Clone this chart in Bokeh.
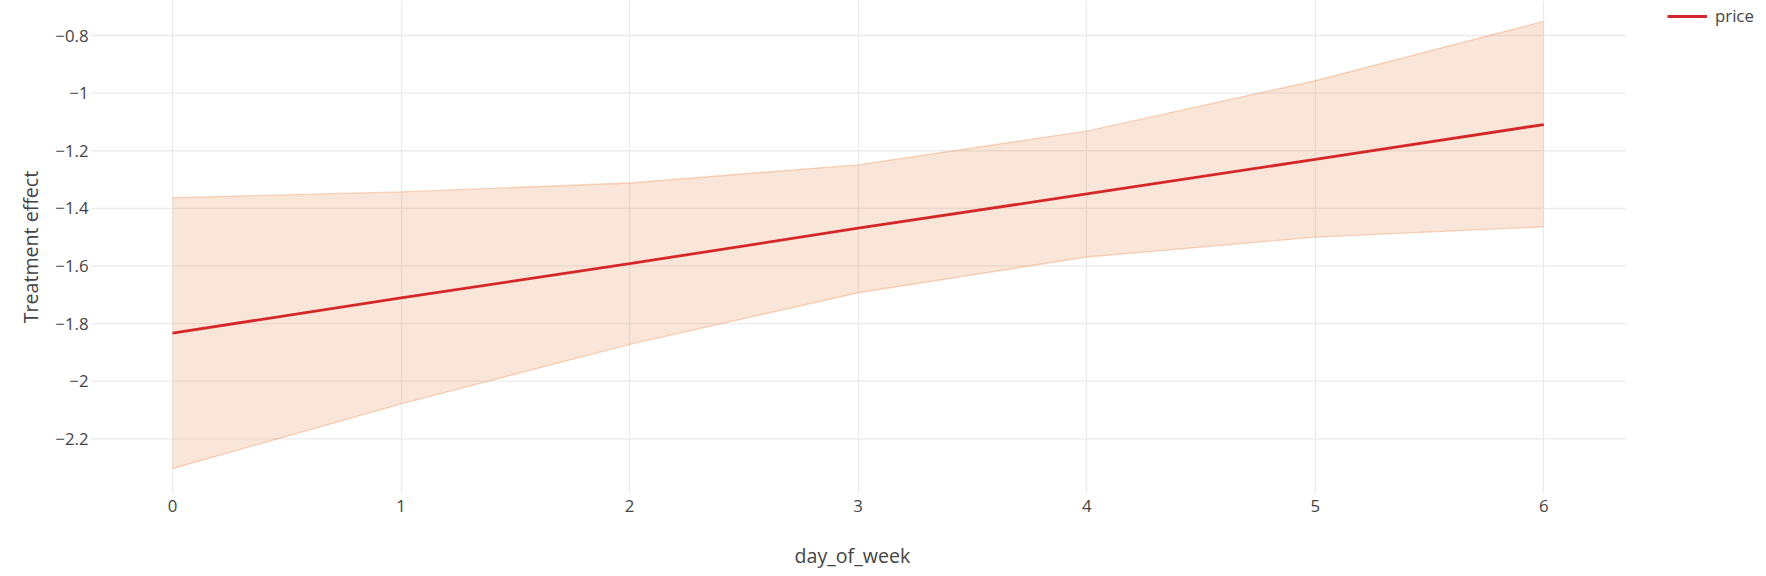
from bokeh.plotting import figure
from bokeh.models import FixedTicker, Legend, LegendItem, Range1d, ColumnDataSource, Title
from bokeh.embed import file_html
from bokeh.resources import INLINE

# ---- data ----
day_of_week = [0, 1, 2, 3, 4, 5, 6]
effect = [-1.833, -1.711, -1.592, -1.469, -1.350, -1.230, -1.109]
upper = [-1.363, -1.343, -1.312, -1.249, -1.132, -0.957, -0.751]
lower = [-2.303, -2.079, -1.872, -1.693, -1.569, -1.500, -1.464]
series_name = "price"
x_title = "day_of_week"
y_title = "Treatment effect"
x_ticks = [0, 1, 2, 3, 4, 5, 6]
y_ticks = [-2.2, -2.0, -1.8, -1.6, -1.4, -1.2, -1.0, -0.8]
y_tick_labels = ["\u22122.2", "\u22122", "\u22121.8", "\u22121.6", "\u22121.4", "\u22121.2", "\u22121", "\u22120.8"]

src = ColumnDataSource(dict(x=day_of_week, y=effect, lo=lower, hi=upper))

FONT = "Open Sans"
TXT = "#444444"
GRID = (235, 235, 235)

W, H = 1766, 576
BL, BB = 90, 83
# visible plotting area in data units (the frame extends further right to host the legend)
X_LO, X_HI = -0.3588, 6.3588
PX_PER_X = 228.55
FRAME_W = W - BL
FRAME_H = H - BB

p = figure(width=W, height=H, output_backend="svg", toolbar_location=None,
           x_range=Range1d(X_LO, X_LO + FRAME_W / PX_PER_X), y_range=Range1d(-2.3899, -0.6785),
           min_border_left=BL, min_border_right=0, min_border_top=0, min_border_bottom=BB)
p.outline_line_color = None
p.background_fill_color = "white"
p.border_fill_color = "white"

# horizontal grid lines, limited to the visible plotting area
grid_src = ColumnDataSource(dict(y=y_ticks, x0=[X_LO] * len(y_ticks), x1=[X_HI] * len(y_ticks)))
p.segment(x0="x0", x1="x1", y0="y", y1="y", source=grid_src, line_color=GRID, line_width=1.3, level="underlay")
p.ygrid.grid_line_color = None

# band
p.varea(x="x", y1="lo", y2="hi", source=src, fill_color=(231, 155, 99), fill_alpha=0.25)
p.line(x="x", y="hi", source=src, line_color=(240, 165, 115), line_alpha=0.45, line_width=1.4)
p.line(x="x", y="lo", source=src, line_color=(240, 165, 115), line_alpha=0.45, line_width=1.4)
main = p.line(x="x", y="y", source=src, line_color="#d62728", line_width=2.8)

# axes
p.xaxis.ticker = FixedTicker(ticks=x_ticks)
p.yaxis.ticker = FixedTicker(ticks=y_ticks)
p.yaxis.major_label_overrides = {t: l for t, l in zip(y_ticks, y_tick_labels)}
p.yaxis.axis_label = y_title
for ax in (p.xaxis, p.yaxis):
    ax.axis_line_color = None
    ax.major_tick_line_color = None
    ax.minor_tick_line_color = None
    ax.major_tick_in = 0
    ax.major_tick_out = 0
    ax.major_label_text_font = FONT
    ax.major_label_text_font_size = "16.8px"
    ax.major_label_text_color = TXT
    ax.axis_label_text_font = FONT
    ax.axis_label_text_font_size = "19.6px"
    ax.axis_label_text_color = TXT
    ax.axis_label_text_font_style = "normal"
p.yaxis.major_label_standoff = 2
p.yaxis.axis_label_standoff = 8
p.xaxis.major_label_standoff = 6

p.xgrid.grid_line_color = GRID
p.xgrid.grid_line_width = 1.3

# thin spacer below the tick labels, then the x-axis title centred under the visible plotting area
spacer = Title(text=" ", text_font_size="1px", standoff=24, text_color="white")
p.add_layout(spacer, "below")
xt = Title(text=x_title, align="left", vertical_align="top", offset=704, standoff=0,
           text_font=FONT, text_font_size="19.6px", text_font_style="normal", text_color=TXT)
p.add_layout(xt, "below")

legend = Legend(items=[LegendItem(label=series_name, renderers=[main])],
                location="top_right",
                background_fill_alpha=0, border_line_color=None,
                padding=0, margin=4, spacing=0,
                glyph_width=40, glyph_height=16, label_height=16, label_width=47,
                label_standoff=8,
                label_text_font=FONT, label_text_font_size="16.8px", label_text_color=TXT)
p.add_layout(legend)

open("out.html", "w").write(file_html(p, INLINE))
